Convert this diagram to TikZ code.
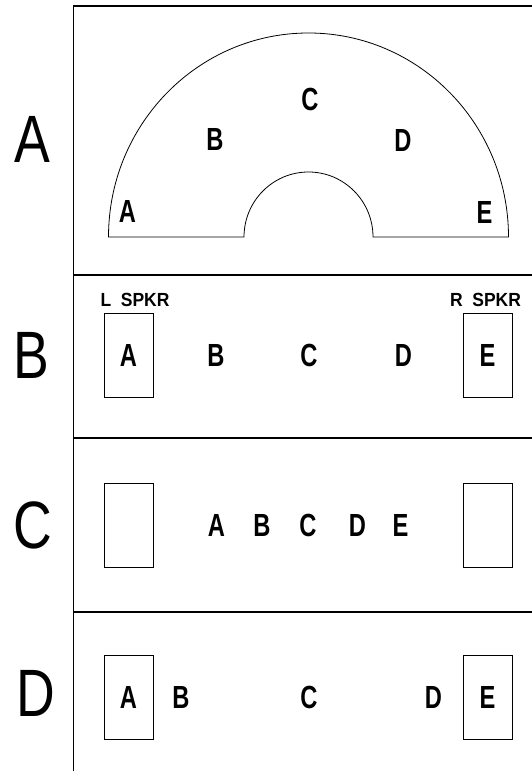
\documentclass[tikz,border=0pt]{standalone}
\usepackage{fontspec}
\setmainfont{Liberation Sans}
\newfontfamily\cadfont[FakeStretch=0.8]{Liberation Sans}
\newfontfamily\seatfont[FakeStretch=0.74]{Liberation Sans}
\newfontfamily\tagfont[FakeStretch=0.92]{Liberation Sans}
\usetikzlibrary{positioning}
\tikzset{
  frm/.style={line width=1.2pt},
  shp/.style={line width=0.8pt},
  seat/.style={inner sep=0pt,font=\seatfont\bfseries\fontsize{32}{32}\selectfont},
  rowlab/.style={inner sep=0pt,font=\cadfont\fontsize{67}{67}\selectfont},
  spkbox/.style={draw,line width=0.8pt,minimum width=49pt,minimum height=84pt,inner sep=0pt},
  spktag/.style={inner sep=0pt,font=\tagfont\bfseries\fontsize{19}{19}\selectfont},
}

\begin{document}
\begin{tikzpicture}[x=1pt,y=1pt]
  \useasboundingbox (0,0) rectangle (532,771);
  % frame
  \draw[frm] (73.5,0) -- (73.5,765) -- (532,765);
  \foreach \y in {496,333,159} {\draw[frm] (73.5,\y) -- (532,\y);}
  % row labels
  \foreach \l/\x/\y in {A/32/632,B/31/416,C/33/246,D/36/78}
    {\node[rowlab] (row\l) at (\x,\y) {\l};}
  % A: half ring
  \draw[shp] (108.5,534) arc[start angle=180,end angle=0,x radius=200,y radius=204]
    -- (373,534) arc[start angle=0,end angle=180,x radius=64.5,y radius=65] -- cycle;
  \foreach \l/\x/\y in {A/127.5/560,B/215/632,C/310/672,D/403/630,E/484.5/558.5}
    {\node[seat] (a\l) at (\x,\y) {\l};}
  % B: speakers at the ends
  \node[spkbox,seat] (bA) at (128.5,416) {A};
  \node[spkbox,seat] (bE) at (487.5,416) {E};
  \foreach \l/\x in {B/216,C/309,D/403.5}
    {\node[seat] (b\l) at (\x,416) {\l};}
  \node[spktag,above=6pt of bA.north,xshift=6.5pt] (tagL) {L\ \ SPKR};
  \node[spktag,above=6pt of bE.north,xshift=-2pt] (tagR) {R\ \ SPKR};
  % C: all in the middle
  \node[spkbox] (cL) at (128.5,246) {};
  \node[spkbox] (cR) at (487.5,246) {};
  \foreach \l/\x in {A/216.5,B/262,C/308,D/357.5,E/400.5}
    {\node[seat] (c\l) at (\x,246) {\l};}
  % D: spread out
  \node[spkbox,seat] (dA) at (128.5,73.5) {A};
  \node[spkbox,seat] (dE) at (487.5,73.5) {E};
  \foreach \l/\x in {B/181,C/309,D/433.5}
    {\node[seat] (d\l) at (\x,73.5) {\l};}
\end{tikzpicture}
\end{document}
